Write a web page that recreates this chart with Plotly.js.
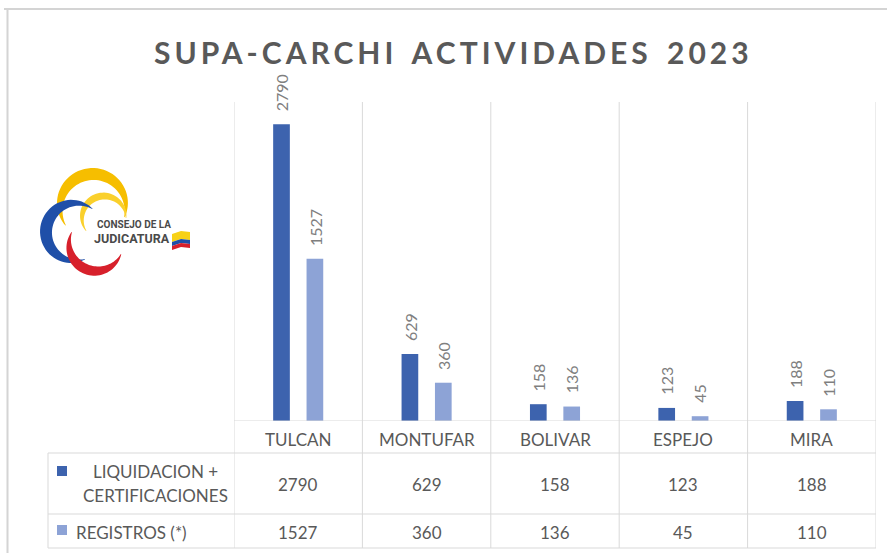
<!DOCTYPE html>
<html>
<head>
<meta charset="utf-8">
<script src="https://cdn.plot.ly/plotly-3.0.1.min.js"></script>
<style>html,body{margin:0;padding:0;background:#fff;}#chart{width:887px;height:553px;}</style>
</head>
<body>
<div id="chart"></div>
<script>
// ---- data ----
const categories = ['TULCAN', 'MONTUFAR', 'BOLIVAR', 'ESPEJO', 'MIRA'];
const liquidacion = [2790, 629, 158, 123, 188];
const registros = [1527, 360, 136, 45, 110];
const seriesLabelsLine1 = ['LIQUIDACION +', 'REGISTROS (*)'];
const seriesLabelsLine2 = ['CERTIFICACIONES', ''];
const titleText = 'SUPA-CARCHI ACTIVIDADES 2023';
const logoLine1 = 'CONSEJO DE LA';
const logoLine2 = 'JUDICATURA';

// ---- styling / geometry ----
const W = 887, H = 553;
const L = 234, R = 876, T = 102, B = 421;
const C1 = '#3D63AE', C2 = '#8DA3D6';
const GRID = '#d9d9d9';
const TXT = '#595959';
const FONT = 'Lato, Carlito, Calibri, sans-serif';

function PX(px) { return (px - L) / (R - L); }
function PY(py) { return (B - py) / (B - T); }
function pathFrom(pts) {
  return 'M' + pts.map(p => PX(p[0]).toFixed(5) + ',' + PY(p[1]).toFixed(5)).join('L') + 'Z';
}
function arcBand(cx, cy, r, a0, a1, tmax, tmin) {
  const n = 48, outer = [], inner = [];
  for (let k = 0; k <= n; k++) {
    const s = k / n;
    const a = (a0 + (a1 - a0) * s) * Math.PI / 180;
    const th = tmin + (tmax - tmin) * Math.sin(Math.PI * s);
    outer.push([cx + (r + th / 2) * Math.cos(a), cy + (r + th / 2) * Math.sin(a)]);
    inner.push([cx + (r - th / 2) * Math.cos(a), cy + (r - th / 2) * Math.sin(a)]);
  }
  return pathFrom(outer.concat(inner.reverse()));
}

const traces = [
  { type: 'bar', x: categories, y: liquidacion, name: seriesLabelsLine1[0] + ' ' + seriesLabelsLine2[0],
    marker: { color: C1 }, hoverinfo: 'none', showlegend: false },
  { type: 'bar', x: categories, y: registros, name: seriesLabelsLine1[1],
    marker: { color: C2 }, hoverinfo: 'none', showlegend: false }
];

const shapes = [];
const annotations = [];
const n = categories.length;

// frame
shapes.push({ type: 'line', xref: 'paper', yref: 'paper', x0: PX(4), x1: PX(W), y0: PY(9), y1: PY(9), line: { color: '#d4d4d4', width: 2 } });
shapes.push({ type: 'line', xref: 'paper', yref: 'paper', x0: PX(7.5), x1: PX(7.5), y0: PY(9), y1: PY(H), line: { color: '#d4d4d4', width: 2 } });

// category boundaries (vertical lines through plot and table)
for (let i = 0; i <= n; i++) {
  shapes.push({ type: 'line', xref: 'x', yref: 'paper', x0: i - 0.5, x1: i - 0.5, y0: PY(548), y1: 1, line: { color: GRID, width: 1 } });
}
// baseline
shapes.push({ type: 'line', xref: 'x', yref: 'y', x0: -0.5, x1: n - 0.5, y0: 0, y1: 0, line: { color: GRID, width: 1 } });
// table horizontal lines
[453, 514, 548].forEach(py => {
  shapes.push({ type: 'line', xref: 'paper', yref: 'paper', x0: PX(48), x1: 1, y0: PY(py), y1: PY(py), line: { color: GRID, width: 1 } });
});
shapes.push({ type: 'line', xref: 'paper', yref: 'paper', x0: PX(48), x1: PX(48), y0: PY(453), y1: PY(548), line: { color: GRID, width: 1 } });
// legend keys
shapes.push({ type: 'rect', xref: 'paper', yref: 'paper', x0: PX(57), x1: PX(67), y0: PY(476), y1: PY(466), fillcolor: C1, line: { width: 0 } });
shapes.push({ type: 'rect', xref: 'paper', yref: 'paper', x0: PX(57), x1: PX(67), y0: PY(535), y1: PY(525), fillcolor: C2, line: { width: 0 } });

// logo arcs
shapes.push({ type: 'path', xref: 'paper', yref: 'paper', path: arcBand(93, 207, 33, 146, 378, 12, 0.5), fillcolor: '#F6BE00', line: { width: 0 } });
shapes.push({ type: 'path', xref: 'paper', yref: 'paper', path: arcBand(104, 218, 22, 144, 360, 7, 0.5), fillcolor: '#FAD02C', line: { width: 0 } });
shapes.push({ type: 'path', xref: 'paper', yref: 'paper', path: arcBand(75, 232, 29, -53, -290, 12, 0.5), fillcolor: '#1F4FA8', line: { width: 0 } });
shapes.push({ type: 'path', xref: 'paper', yref: 'paper', path: arcBand(96, 244, 27, 206, 22, 10, 0.5), fillcolor: '#D7202B', line: { width: 0 } });
// flag
shapes.push({ type: 'path', xref: 'paper', yref: 'paper', path: pathFrom([[172, 234], [181, 231], [190, 232], [190, 240], [181, 239], [172, 242]]), fillcolor: '#F7D117', line: { width: 0 } });
shapes.push({ type: 'path', xref: 'paper', yref: 'paper', path: pathFrom([[172, 242], [181, 239], [190, 240], [190, 244], [181, 243], [172, 246]]), fillcolor: '#1F4FA8', line: { width: 0 } });
shapes.push({ type: 'path', xref: 'paper', yref: 'paper', path: pathFrom([[172, 246], [181, 243], [190, 244], [190, 248], [181, 247], [172, 250]]), fillcolor: '#D7202B', line: { width: 0 } });

// title
annotations.push({ text: titleText, xref: 'paper', yref: 'paper', x: PX(453.5), y: PY(52), xanchor: 'center', yanchor: 'middle', showarrow: false,
  font: { family: FONT, size: 30, color: TXT, weight: 700 } });

// logo text
annotations.push({ text: logoLine1, xref: 'paper', yref: 'paper', x: PX(95), y: PY(224.5), xanchor: 'left', yanchor: 'middle', showarrow: false,
  font: { family: 'Roboto, sans-serif', size: 10, color: '#4a4a4a', weight: 700 } });
annotations.push({ text: logoLine2, xref: 'paper', yref: 'paper', x: PX(92), y: PY(238.5), xanchor: 'left', yanchor: 'middle', showarrow: false,
  font: { family: 'Roboto, sans-serif', size: 12.5, color: '#4a4a4a', weight: 700 } });

// category labels and table values
categories.forEach((c, i) => {
  annotations.push({ text: c, xref: 'x', yref: 'paper', x: i, y: PY(439), xanchor: 'center', yanchor: 'middle', showarrow: false, font: { family: FONT, size: 17, color: TXT } });
  annotations.push({ text: String(liquidacion[i]), xref: 'x', yref: 'paper', x: i, y: PY(484), xanchor: 'center', yanchor: 'middle', showarrow: false, font: { family: FONT, size: 17, color: TXT } });
  annotations.push({ text: String(registros[i]), xref: 'x', yref: 'paper', x: i, y: PY(532), xanchor: 'center', yanchor: 'middle', showarrow: false, font: { family: FONT, size: 17, color: TXT } });
  // rotated data labels
  annotations.push({ text: String(liquidacion[i]), xref: 'x', yref: 'y', x: i - 0.13, y: liquidacion[i], xanchor: 'center', yanchor: 'bottom', yshift: 11, textangle: -90, showarrow: false, font: { family: FONT, size: 16, color: '#7f7f7f' } });
  annotations.push({ text: String(registros[i]), xref: 'x', yref: 'y', x: i + 0.13, y: registros[i], xanchor: 'center', yanchor: 'bottom', yshift: 11, textangle: -90, showarrow: false, font: { family: FONT, size: 16, color: '#7f7f7f' } });
});

// legend / row headers
annotations.push({ text: seriesLabelsLine1[0], xref: 'paper', yref: 'paper', x: PX(155), y: PY(471), xanchor: 'center', yanchor: 'middle', showarrow: false, font: { family: FONT, size: 17, color: TXT } });
annotations.push({ text: seriesLabelsLine2[0], xref: 'paper', yref: 'paper', x: PX(155), y: PY(495), xanchor: 'center', yanchor: 'middle', showarrow: false, font: { family: FONT, size: 17, color: TXT } });
annotations.push({ text: seriesLabelsLine1[1], xref: 'paper', yref: 'paper', x: PX(74), y: PY(532), xanchor: 'left', yanchor: 'middle', showarrow: false, font: { family: FONT, size: 17, color: TXT } });

const layout = {
  width: W, height: H,
  margin: { l: L, r: W - R, t: T, b: H - B, pad: 0 },
  paper_bgcolor: '#ffffff', plot_bgcolor: '#ffffff',
  barmode: 'group', bargap: 0.48, bargroupgap: 0.5,
  showlegend: false,
  xaxis: { type: 'category', range: [-0.5, n - 0.5], showticklabels: false, showgrid: false, zeroline: false, showline: false, ticks: '', fixedrange: true },
  yaxis: { range: [0, 3000], visible: false, showgrid: false, zeroline: false, fixedrange: true },
  shapes: shapes,
  annotations: annotations
};

Plotly.newPlot('chart', traces, layout, { displayModeBar: false, staticPlot: true }).then(gd => {
  gd.querySelectorAll('.annotation-text').forEach(t => {
    if (t.textContent === titleText) {
      t.style.letterSpacing = '4px';
      t.style.wordSpacing = '4px';
    }
  });
});
</script>
</body>
</html>
